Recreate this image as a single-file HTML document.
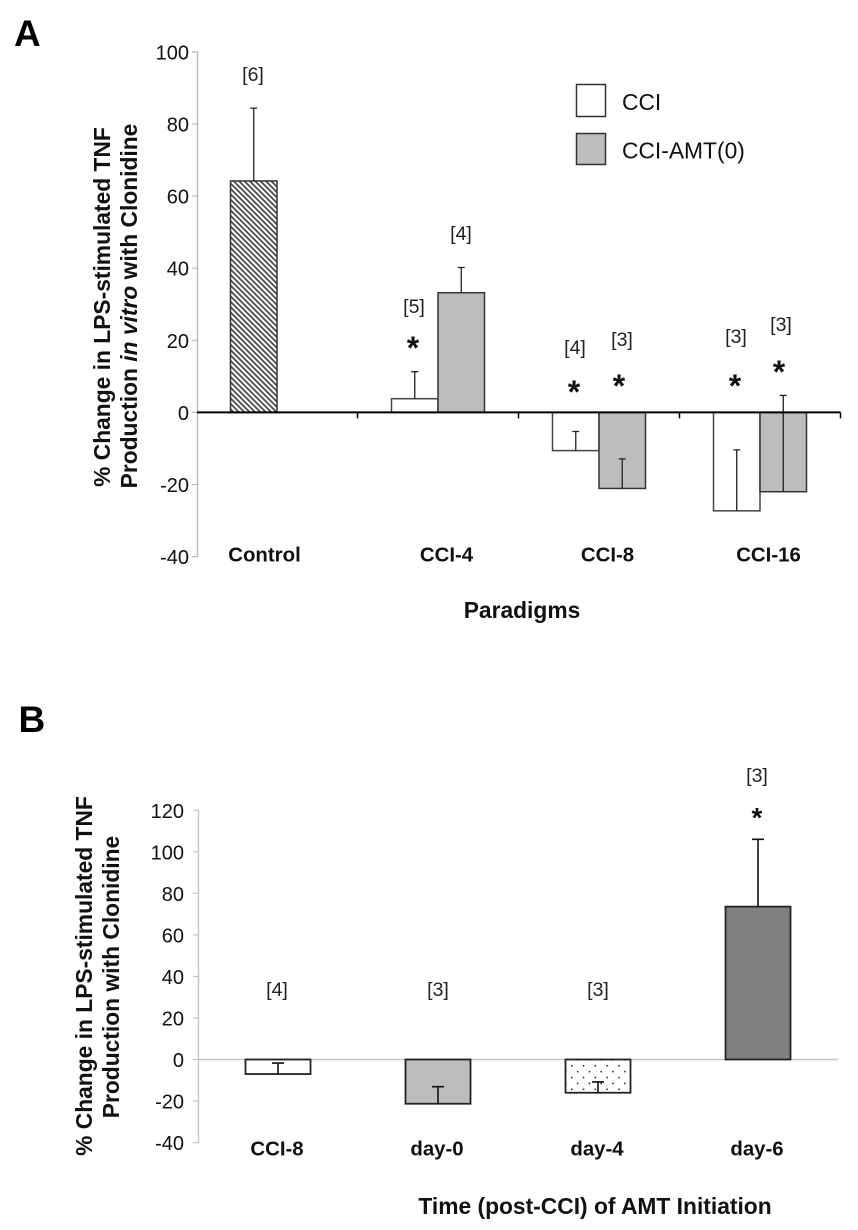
<!DOCTYPE html>
<html lang="en">
<head>
<meta charset="utf-8">
<title>TNF production with clonidine</title>
<style>
html,body{margin:0;padding:0;background:#fff;}
svg{display:block;font-family:"Liberation Sans",Arial,sans-serif;}
.tick{font-size:20px;fill:#111;text-anchor:end;}
.cat{font-size:20.4px;font-weight:bold;fill:#111;text-anchor:middle;}
.title{font-size:22.8px;font-weight:bold;fill:#111;text-anchor:middle;}
.n{font-size:19.5px;fill:#222;text-anchor:middle;}
.star{font-size:32px;font-weight:bold;fill:#111;text-anchor:middle;}
.panel{font-size:37px;font-weight:bold;fill:#000;}
.leg{font-size:22.8px;fill:#111;}
</style>
</head>
<body>
<svg id="figure" xmlns="http://www.w3.org/2000/svg" width="858" height="1230" viewBox="0 0 858 1230">
<defs>
<pattern id="hatch" width="3.8" height="3.8" patternUnits="userSpaceOnUse" patternTransform="rotate(45)">
<rect width="3.8" height="3.8" fill="#fff"/>
<rect width="3.8" height="1.7" fill="#444"/>
</pattern>
<pattern id="dots" width="11.8" height="11.8" patternUnits="userSpaceOnUse" patternTransform="translate(571 1065)">
<rect width="11.8" height="11.8" fill="#fff"/>
<rect x="0" y="0" width="1.5" height="1.5" fill="#222"/>
<rect x="5.9" y="5.9" width="1.5" height="1.5" fill="#222"/>
</pattern>
</defs>

<text class="panel" x="14" y="46">A</text>
<text class="panel" x="18.5" y="732">B</text>

<g id="chart-a"></g>
<g id="chart-b"></g>

<text class="title" transform="translate(110 307) rotate(-90)">% Change in LPS-stimulated TNF</text>
<text class="title" transform="translate(137 306) rotate(-90)">Production <tspan font-style="italic">in vitro</tspan> with Clonidine</text>
<text class="title" x="522" y="618">Paradigms</text>

<text class="title" transform="translate(92 976) rotate(-90)">% Change in LPS-stimulated TNF</text>
<text class="title" transform="translate(119 977) rotate(-90)">Production with Clonidine</text>
<text class="title" x="595" y="1214">Time (post-CCI) of AMT Initiation</text>

<g>
<rect x="576.5" y="84.5" width="29" height="32" fill="#fff" stroke="#333" stroke-width="1.5"/>
<text class="leg" x="622" y="110">CCI</text>
<rect x="576.5" y="133.5" width="29" height="31" fill="#bdbdbd" stroke="#333" stroke-width="1.5"/>
<text class="leg" x="622" y="158.5">CCI-AMT(0)</text>
</g>

<g>
<text class="n" x="253" y="81">[6]</text>
<text class="n" x="461" y="240">[4]</text>
<text class="n" x="414" y="313">[5]</text>
<text class="n" x="575" y="354">[4]</text>
<text class="n" x="622" y="346">[3]</text>
<text class="n" x="736" y="343">[3]</text>
<text class="n" x="781" y="331">[3]</text>
</g>
<g>
<text class="star" x="413" y="359">*</text>
<text class="star" x="574" y="403">*</text>
<text class="star" x="619" y="397">*</text>
<text class="star" x="735" y="397">*</text>
<text class="star" x="779" y="383">*</text>
</g>
<g>
<text class="n" x="277" y="996">[4]</text>
<text class="n" x="438" y="996">[3]</text>
<text class="n" x="598" y="996">[3]</text>
<text class="n" x="757" y="782">[3]</text>
</g>
<text class="star" x="757" y="827" style="font-size:28px">*</text>
</svg>

<script>
// Panel A data
const categoriesA = ['Control', 'CCI-4', 'CCI-8', 'CCI-16'];
const controlValuesA = [64.2];
const controlErrorsA = [20.2];
const cciValuesA = [null, 3.8, -10.6, -27.3];
const cciErrorsA = [null, 7.5, 5.3, 16.9];
const amtValuesA = [null, 33.2, -21.1, -22];
const amtErrorsA = [null, 7, 8.2, 26.7];
const ticksA = [100, 80, 60, 40, 20, 0, -20, -40];

// Panel B data
const categoriesB = ['CCI-8', 'day-0', 'day-4', 'day-6'];
const valuesB = [-7, -21.3, -16, 73.6];
const errorsB = [5.3, 8.2, 5.2, 32.4];
const ticksB = [120, 100, 80, 60, 40, 20, 0, -20, -40];

const NS = 'http://www.w3.org/2000/svg';
function make(parent, tag, attrs, text) {
  const node = document.createElementNS(NS, tag);
  for (const k in attrs) node.setAttribute(k, attrs[k]);
  if (text !== undefined) node.textContent = text;
  parent.appendChild(node);
  return node;
}

// Panel A axes
const yA = v => 412.4 - 3.605 * v;
const xA = i => 277 + 161 * i;
const chartA = document.getElementById('chart-a');

const axisYA = make(chartA, 'line', {x1: 197.5, x2: 197.5, y1: yA(100), y2: yA(-40), stroke: '#b8b8b8', 'stroke-width': 1.4});



ticksA.forEach(t => {
  const tk = make(chartA, 'line', {x1: 192, x2: 197.5, y1: yA(t), y2: yA(t), stroke: '#b8b8b8', 'stroke-width': 1.2});
  
  
  const lb = make(chartA, 'text', {class: 'tick', x: 189, y: yA(t) + 7.5}, String(t));
  
  
});

function barA(left, width, value, error, fill, stroke, name) {
  const top = Math.min(yA(value), yA(0));
  const h = Math.abs(yA(value) - yA(0));
  const r = make(chartA, 'rect', {x: left, y: top, width: width, height: h, fill: fill, stroke: stroke, 'stroke-width': 1.5});
  
  
  const cx = left + width / 2;
  const e = make(chartA, 'path', {d: 'M' + cx + ' ' + yA(value) + 'V' + yA(value + error) + 'M' + (cx - 3.5) + ' ' + yA(value + error) + 'H' + (cx + 3.5), fill: 'none', stroke: '#222', 'stroke-width': 1.3});
  
  
}

const barWidthA = 46.5;
controlValuesA.forEach((v, i) => {
  barA(xA(i) - barWidthA, barWidthA, v, controlErrorsA[i], 'url(#hatch)', '#333', 'bar-control');
});
cciValuesA.forEach((v, i) => {
  if (v === null) return;
  barA(xA(i) - barWidthA, barWidthA, v, cciErrorsA[i], '#fff', '#444', 'bar-cci-' + i);
});
amtValuesA.forEach((v, i) => {
  if (v === null) return;
  barA(xA(i), barWidthA, v, amtErrorsA[i], '#bdbdbd', '#333', 'bar-cci-amt-' + i);
});

const axisXA = make(chartA, 'line', {x1: 197, x2: 840.5, y1: yA(0), y2: yA(0), stroke: '#000', 'stroke-width': 2});



categoriesA.forEach((c, i) => {
  const edge = xA(i) + 80.5;
  const tk = make(chartA, 'line', {x1: edge, x2: edge, y1: yA(0), y2: yA(0) + 6, stroke: '#000', 'stroke-width': 1.5});
  
  
  const lb = make(chartA, 'text', {class: 'cat', x: xA(i) + (i === 0 ? -12.5 : 8.5), y: 561.5}, c);
  
  
});

// Panel B axes
const yB = v => 1059.5 - 2.077 * v;
const xB = i => 278 + 160 * i;
const chartB = document.getElementById('chart-b');

const axisYB = make(chartB, 'line', {x1: 198.5, x2: 198.5, y1: yB(120), y2: yB(-40), stroke: '#c4c4c4', 'stroke-width': 1.4});



ticksB.forEach(t => {
  const tk = make(chartB, 'line', {x1: 193, x2: 198.5, y1: yB(t), y2: yB(t), stroke: '#c4c4c4', 'stroke-width': 1.2});
  
  
  const lb = make(chartB, 'text', {class: 'tick', x: 184, y: yB(t) + 7.5}, String(t));
  
  
});

const axisXB = make(chartB, 'line', {x1: 198, x2: 838, y1: yB(0), y2: yB(0), stroke: '#c4c4c4', 'stroke-width': 1.4});



const fillsB = ['#fff', '#bdbdbd', 'url(#dots)', '#808080'];
const barWidthB = 65;
valuesB.forEach((v, i) => {
  const top = Math.min(yB(v), yB(0));
  const h = Math.abs(yB(v) - yB(0));
  const r = make(chartB, 'rect', {x: xB(i) - barWidthB / 2, y: top, width: barWidthB, height: h, fill: fillsB[i], stroke: '#222', 'stroke-width': 1.8});
  
  
  const end = yB(v + errorsB[i]);
  const e = make(chartB, 'path', {d: 'M' + xB(i) + ' ' + yB(v) + 'V' + end + 'M' + (xB(i) - 6) + ' ' + end + 'H' + (xB(i) + 6), fill: 'none', stroke: '#111', 'stroke-width': 1.6});
  
  
});

categoriesB.forEach((c, i) => {
  const lb = make(chartB, 'text', {class: 'cat', x: xB(i) - 1, y: 1155.5}, c);
  
  
});
</script>
</body>
</html>
